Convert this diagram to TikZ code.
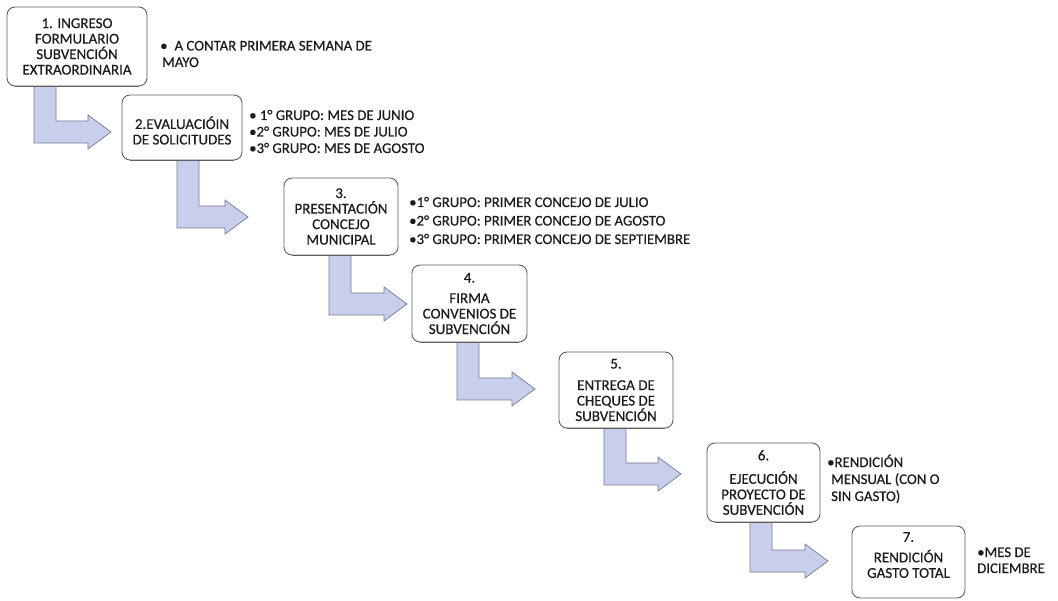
\documentclass[tikz,border=0pt]{standalone}
\usepackage{fontspec}
\setmainfont{Carlito}
\newfontfamily\scanfont{Carlito}[FakeBold=0.45]
\usetikzlibrary{calc}
\definecolor{arrfill}{RGB}{200,207,236}
\definecolor{arrline}{RGB}{120,124,140}
\definecolor{boxline}{RGB}{95,95,95}
\definecolor{txt}{RGB}{28,28,28}
\tikzset{
  box/.style={draw=boxline, line width=0.9pt, fill=white, rounded corners=8pt,
    align=center, inner sep=0pt, text=txt, font=\scanfont\fontsize{15}{15.5}\selectfont},
  note/.style={anchor=base west, align=left, inner sep=0pt, text=txt},
  larr/.style={draw=arrline, line width=0.7pt, fill=arrfill, line join=miter}
}
% #1 source node, #2 stem left x, #3 bar bottom y, #4 tip x
\newcommand\larrow[4]{%
  \draw[larr] (#1.south -| #2,0) -- (#2,#3) -- (#4-23,#3) -- (#4-23,#3+6)
    -- (#4,#3-11) -- (#4-23,#3-28) -- (#4-23,#3-22) -- (#2+22,#3-22)
    -- (#1.south -| #2+22,0) -- cycle;}
\begin{document}
\begin{tikzpicture}[x=1pt,y=-1pt]
\fill[white] (0,0) rectangle (1058,601);
\useasboundingbox (0,0) rectangle (1058,601);

\node[box, minimum width=140pt, minimum height=79pt] (b1) at (77,46.5)
  {1. INGRESO\\FORMULARIO\\SUBVENCIÓN\\EXTRAORDINARIA};
\node[box, minimum width=120pt, minimum height=65pt, text height=34pt] (b2) at (182,127.5)
  {2.EVALUACIÓIN\\DE SOLICITUDES};
\node[box, minimum width=114pt, minimum height=77pt] (b3) at (341,216.5)
  {3.\\PRESENTACIÓN\\CONCEJO\\MUNICIPAL};
\node[box, minimum width=115pt, minimum height=77pt] (b4) at (469.5,303.5)
  {4.\\[5pt]FIRMA\\CONVENIOS DE\\SUBVENCIÓN};
\node[box, minimum width=114pt, minimum height=76pt] (b5) at (616,390)
  {5.\\[6pt]ENTREGA DE\\CHEQUES DE\\SUBVENCIÓN};
\node[box, minimum width=113pt, minimum height=79pt] (b6) at (763.5,482.5)
  {6.\\[8pt]EJECUCIÓN\\PROYECTO DE\\SUBVENCIÓN};
\node[box, minimum width=113pt, minimum height=72pt, text depth=14pt] (b7) at (908.5,562)
  {7.\\[5pt]RENDICIÓN\\GASTO TOTAL};

\larrow{b1}{34}{143}{111}
\larrow{b2}{177}{228}{248}
\larrow{b3}{329}{315}{407}
\larrow{b4}{457}{400}{535}
\larrow{b5}{604}{485}{681}
\larrow{b6}{750}{572}{828}

% redraw box bottoms over the arrow stems
\foreach \b in {b1,b2,b3,b4,b5,b6}{
  \draw[boxline, line width=0.9pt] ($(\b.south west)+(8,0)$) -- ($(\b.south east)+(-8,0)$);
}

\node[note, font=\scanfont\fontsize{14.8}{16.5}\selectfont] (n1) at (160,67)
  {•\hspace{7pt}A CONTAR PRIMERA SEMANA DE\\\hspace{2pt}MAYO};
\node[note, font=\scanfont\fontsize{14.8}{16.5}\selectfont] (n2) at (249,153)
  {• 1° GRUPO: MES DE JUNIO\\•2° GRUPO: MES DE JULIO\\•3° GRUPO: MES DE AGOSTO};
\node[note, font=\scanfont\fontsize{14.8}{18.5}\selectfont] (n3) at (409,244)
  {•1° GRUPO: PRIMER CONCEJO DE JULIO\\•2° GRUPO: PRIMER CONCEJO DE AGOSTO\\•3° GRUPO: PRIMER CONCEJO DE SEPTIEMBRE};
\node[note, font=\scanfont\fontsize{14.8}{17}\selectfont] (n6) at (827,501)
  {•RENDICIÓN\\\hspace{4pt}MENSUAL (CON O\\\hspace{4pt}SIN GASTO)};
\node[note, font=\scanfont\fontsize{14.8}{16}\selectfont] (n7) at (977,573)
  {•MES DE\\DICIEMBRE};
\end{tikzpicture}
\end{document}
